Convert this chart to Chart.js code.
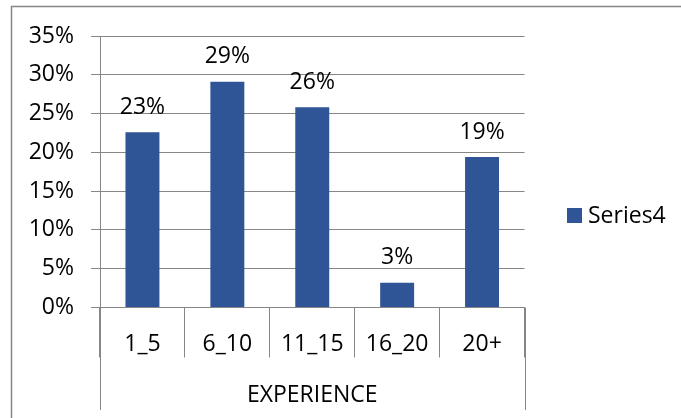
<!DOCTYPE html>
<html>
<head>
<meta charset="utf-8">
<script src="https://cdn.jsdelivr.net/npm/chart.js@4.4.0/dist/chart.umd.min.js"></script>
<style>
body { margin: 0; background: #fff; }
canvas { display: block; }
</style>
</head>
<body>
<canvas id="chart" width="681" height="418"></canvas>
<script>
var categories = ['1_5', '6_10', '11_15', '16_20', '20+'];
var values = [22.6, 29.1, 25.8, 3.2, 19.4];
var seriesName = 'Series4';
var groupLabel = 'EXPERIENCE';
var yMin = 0, yMax = 35, yStep = 5;

var lineColor = '#868686';
var barColor = '#2F5597';
var font = "'Open Sans', sans-serif";

function px(v) { return Math.round(v) + 0.5; }

var extras = {
    id: 'extras',
    beforeDraw: function(chart) {
        var ctx = chart.ctx;
        ctx.save();
        ctx.fillStyle = '#fff';
        ctx.fillRect(0, 0, chart.width, chart.height);
        // outer frame
        ctx.strokeStyle = lineColor;
        ctx.lineWidth = 1.5;
        ctx.beginPath();
        ctx.moveTo(11.5, chart.height);
        ctx.lineTo(11.5, 6.5);
        ctx.lineTo(chart.width, 6.5);
        ctx.stroke();
        ctx.restore();
    },
    afterDraw: function(chart) {
        var ctx = chart.ctx;
        var xs = chart.scales.x;
        var area = chart.chartArea;
        ctx.save();
        // value labels
        ctx.font = '23px ' + font;
        ctx.fillStyle = '#000';
        ctx.textAlign = 'center';
        ctx.textBaseline = 'alphabetic';
        chart.getDatasetMeta(0).data.forEach(function(bar, i) {
            ctx.fillText(Math.round(values[i]) + '%', bar.x, bar.y - 18.5);
        });
        // outer lines of the group label box
        ctx.strokeStyle = lineColor;
        ctx.lineWidth = 1;
        ctx.beginPath();
        ctx.moveTo(px(xs.left), area.bottom);
        ctx.lineTo(px(xs.left), 410);
        ctx.moveTo(px(xs.right), area.bottom);
        ctx.lineTo(px(xs.right), 410);
        ctx.stroke();
        // group label
        ctx.textBaseline = 'middle';
        ctx.fillText(groupLabel, (xs.left + xs.right) / 2, 395);
        // legend
        var ds = chart.data.datasets[0];
        ctx.fillStyle = ds.backgroundColor;
        ctx.fillRect(567, 208, 15, 15);
        ctx.fillStyle = '#000';
        ctx.textAlign = 'left';
        ctx.fillText(ds.label, 588, 216);
        ctx.restore();
    }
};

new Chart(document.getElementById('chart'), {
    type: 'bar',
    data: {
        labels: categories,
        datasets: [{
            label: seriesName,
            data: values,
            backgroundColor: barColor,
            categoryPercentage: 1,
            barPercentage: 0.4
        }]
    },
    options: {
        responsive: false,
        animation: false,
        layout: {
            padding: { top: 36, right: 156.5, bottom: 0, left: 0 }
        },
        plugins: {
            legend: { display: false },
            tooltip: { enabled: false }
        },
        scales: {
            x: {
                afterFit: function(scale) { scale.height = 110.5; },
                grid: {
                    offset: true,
                    drawOnChartArea: false,
                    tickLength: 50,
                    color: lineColor
                },
                border: { color: lineColor },
                ticks: {
                    padding: -27,
                    color: '#000',
                    font: { family: font, size: 23 }
                }
            },
            y: {
                min: yMin,
                max: yMax,
                afterFit: function(scale) { scale.width = 100; },
                grid: {
                    tickLength: 9,
                    color: lineColor
                },
                border: { color: lineColor },
                ticks: {
                    stepSize: yStep,
                    padding: 17,
                    color: '#000',
                    font: { family: font, size: 23 },
                    callback: function(v) { return v + '%'; }
                }
            }
        }
    },
    plugins: [extras]
});
</script>
</body>
</html>
